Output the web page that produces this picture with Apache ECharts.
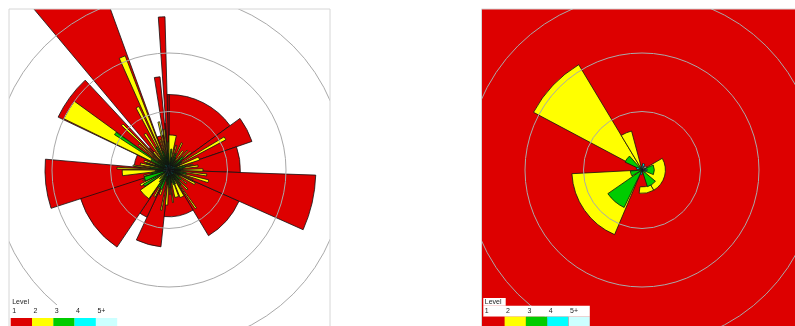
<!DOCTYPE html>
<html>
<head>
<meta charset="utf-8">
<script src="https://cdn.jsdelivr.net/npm/echarts@6/dist/echarts.min.js"></script>
<style>
  html, body { margin: 0; padding: 0; background: #ffffff; }
  #chart { width: 795px; height: 326px; }
</style>
</head>
<body>
<div id="chart"></div>
<script>
// Level legend
const levelNames = ['1', '2', '3', '4', '5+'];
const levelColors = ['#dd0000', '#ffff00', '#00cc00', '#00ffff', '#ccffff'];

// Sectors: [fromDeg, toDeg, innerRadius, outerRadius]
// compass degrees (0 = north, clockwise); range rings every 10 units

// ---- left rose ----
const leftLevel1 = [
  [0, 54, 0, 12.9], [54, 71, 0, 15], [71, 92, 0, 12.2], [114, 149, 0, 13.1],
  [149, 186, 0, 8], [186, 205, 0, 13.2], [205, 214, 0, 8.9], [214, 253, 0, 15.9],
  [275, 295.5, 0, 6], [317, 320, 0, 5], [340, 351, 0, 6], [354.5, 356, 0, 8],
  [358.5, 360, 0, 12.9],
  [92, 114, 0, 25.1], [252, 275, 0, 21.2], [295.5, 317, 0, 21], [320, 340, 0, 38],
  [351, 354.5, 0, 16], [356, 358.5, 0, 26.2]
];
const leftLevel2 = [
  [296, 306, 0, 20], [336, 339, 0, 20.9], [332, 334.6, 0, 12], [313, 315, 0, 11.1],
  [352, 354, 0, 7], [0, 12, 0, 6], [24, 27, 0, 5.1], [34, 38, 0, 4],
  [42, 44, 0, 4.6], [59, 62, 0, 11], [66, 72, 0, 5.5], [76, 78, 0, 4.2],
  [80, 84, 0, 5], [88, 92, 0, 5.8], [96, 99, 0, 6.5], [104, 108, 0, 7],
  [111, 113, 0, 4.4], [116, 120, 0, 5], [126, 129, 0, 3.8], [135, 138, 0, 4.6],
  [144, 146, 0, 8], [150, 158, 0, 5.1], [160, 168, 0, 4.8], [172, 174, 0, 5.6],
  [177, 179, 0, 4.2], [182, 186, 0, 6], [190, 192, 0, 7], [198, 202, 0, 4.5],
  [207, 210, 0, 5.2], [215, 235, 0, 6], [240, 244, 0, 5.5], [247, 249, 0, 4.8],
  [256, 259, 0, 4.4], [263, 270, 0, 8], [271, 273, 0, 8.9], [276, 278, 0, 6.2],
  [280, 284, 0, 5], [288, 292, 0, 4.5], [309, 311, 0, 6.8], [318, 322, 0, 4],
  [325, 328, 0, 7.4], [343, 345, 0, 5.4], [347, 349, 0, 8.4], [357, 359, 0, 4.8],
  [15, 18, 0, 4.4], [49, 52, 0, 4.8]
];
const leftLevel3 = [
  [303, 305.5, 0, 11.1], [330, 333, 0, 4.4], [245, 255, 0, 4.4], [236, 241, 0, 5],
  [298, 302, 0, 3.5], [160, 164, 0, 2.6], [200, 206, 0, 3.5], [20, 24, 0, 3],
  [45, 50, 0, 3.2], [75, 80, 0, 2.8], [100, 104, 0, 3], [125, 130, 0, 2.6],
  [140, 143, 0, 3.2], [175, 179, 0, 3], [210, 214, 0, 3.4], [258, 262, 0, 3],
  [275, 279, 0, 3.2], [286, 288, 0, 4], [340, 343, 0, 3.4], [355, 358, 0, 2.8],
  [5, 8, 0, 3.6], [11, 13, 0, 2.2], [28, 30, 0, 2.4], [36, 38, 0, 2.0],
  [55, 57, 0, 2.6], [63, 65, 0, 2.2], [85, 87, 0, 2.4], [92, 94, 0, 2.0],
  [108, 110, 0, 2.3], [116, 118, 0, 2.0], [133, 135, 0, 2.4], [148, 150, 0, 2.1],
  [154, 156, 0, 2.6], [168, 170, 0, 2.2], [184, 186, 0, 2.5], [192, 194, 0, 2.0],
  [218, 220, 0, 2.6], [226, 228, 0, 2.2], [265, 267, 0, 2.4], [270, 272, 0, 2.0],
  [292, 294, 0, 2.6], [310, 312, 0, 2.4], [318, 320, 0, 2.2], [324, 326, 0, 2.6],
  [336, 338, 0, 2.3], [348, 350, 0, 2.5]
];
const leftLevel4 = [
  [0, 6, 0, 0.9], [30, 38, 0, 0.8], [60, 68, 0, 1.0], [95, 102, 0, 0.8],
  [130, 138, 0, 0.9], [165, 172, 0, 0.8], [195, 203, 0, 1.0], [225, 232, 0, 0.8],
  [260, 268, 0, 0.9], [290, 297, 0, 0.8], [320, 328, 0, 1.0], [345, 351, 0, 0.8]
];
const leftLevel5 = [
  [12, 20, 0, 0.5], [110, 118, 0, 0.5], [180, 188, 0, 0.5], [240, 248, 0, 0.5], [305, 312, 0, 0.5]
];

// ---- right rose ----
const rightLevel1 = [
  [0, 360, 0, 40]
];
const rightLevel2 = [
  [298, 329, 0, 21], [329, 345, 0, 6.9], [203, 267, 0, 12], [60, 150, 0, 4], [150, 187, 2.9, 4]
];
const rightLevel3 = [
  [205.5, 235.3, 0, 7.1], [295, 318, 0, 3.2], [240, 265, 0, 2], [130, 162, 0, 3], [66, 112, 0, 2.1]
];
const rightLevel4 = [
  [5, 25, 0, 1.1], [280, 300, 0, 1.0], [180, 200, 0, 0.8], [80, 95, 0, 0.9]
];
const rightLevel5 = [
  [40, 60, 0, 0.9], [110, 125, 0, 0.7], [335, 350, 0, 0.7]
];

const leftLevels = [leftLevel1, leftLevel2, leftLevel3, leftLevel4, leftLevel5];
const rightLevels = [rightLevel1, rightLevel2, rightLevel3, rightLevel4, rightLevel5];

// Draw one sector per data row using the polar axes for placement
function sectorRenderer(color) {
  return function (params, api) {
    const a0 = api.value(0), a1 = api.value(1), r0 = api.value(2), r1 = api.value(3);
    const c = api.coord([0, a0]);
    const p0 = api.coord([r1, a0]);
    const p1 = api.coord([r1, a1]);
    const q0 = api.coord([r0, a0]);
    const rOut = Math.hypot(p0[0] - c[0], p0[1] - c[1]);
    const rIn = Math.hypot(q0[0] - c[0], q0[1] - c[1]);
    if (a1 - a0 >= 360) {
      return { type: 'circle', shape: { cx: c[0], cy: c[1], r: rOut }, style: { fill: color } };
    }
    const s = Math.atan2(p0[1] - c[1], p0[0] - c[0]);
    let e = Math.atan2(p1[1] - c[1], p1[0] - c[0]);
    while (e <= s) e += Math.PI * 2;
    return {
      type: 'sector',
      shape: { cx: c[0], cy: c[1], r0: rIn, r: rOut, startAngle: s, endAngle: e, clockwise: true },
      style: { fill: color, stroke: '#111111', lineWidth: 0.8 }
    };
  };
}

function roseSeries(levels, polarIndex) {
  return levels.map((rows, i) => ({
    type: 'custom',
    coordinateSystem: 'polar',
    polarIndex: polarIndex,
    name: 'Level ' + levelNames[i],
    dimensions: ['from', 'to', 'inner', 'outer'],
    encode: { angle: ['from', 'to'], radius: ['inner', 'outer'] },
    renderItem: sectorRenderer(levelColors[i]),
    data: rows,
    silent: true,
    z: 2
  }));
}

const ringAxis = (idx) => ({
  polarIndex: idx, type: 'value', min: 0, max: 40, interval: 10, z: 5,
  axisLine: { show: false }, axisTick: { show: false }, axisLabel: { show: false },
  splitLine: { show: true, lineStyle: { color: '#a9a9a9', width: 1 } }
});
const dirAxis = (idx) => ({
  polarIndex: idx, type: 'value', min: 0, max: 360, startAngle: 90, clockwise: true,
  axisLine: { show: false }, axisTick: { show: false }, axisLabel: { show: false },
  splitLine: { show: false }
});

// Legend block: "Level" caption, numbers row, colour swatches
function legendGraphics(x0, yCap, yRow, yBox, capWidth) {
  const w = 21.3;
  const els = [
    { type: 'rect', shape: { x: x0, y: yCap, width: capWidth, height: yRow - yCap }, style: { fill: '#ffffff' }, z: 110 },
    { type: 'rect', shape: { x: x0, y: yRow, width: w * 5, height: yBox - yRow }, style: { fill: '#ffffff' }, z: 110 },
    { type: 'text', x: x0 + 1.5, y: yCap + (yRow - yCap) / 2 + 0.5, style: { text: 'Level', font: '7px "Liberation Sans"', fill: '#222', verticalAlign: 'middle' }, z: 111 }
  ];
  levelNames.forEach((n, i) => {
    els.push({ type: 'text', x: x0 + i * w + 1.5, y: yRow + (yBox - yRow) / 2, style: { text: n, font: '7px "Liberation Sans"', fill: '#222', verticalAlign: 'middle' }, z: 111 });
    els.push({ type: 'rect', shape: { x: x0 + i * w, y: yBox, width: w, height: 12 }, style: { fill: levelColors[i] }, z: 110 });
  });
  return els;
}

const chart = echarts.init(document.getElementById('chart'), null, { renderer: 'canvas' });
chart.setOption({
  animation: false,
  backgroundColor: '#ffffff',
  polar: [
    { center: [169, 170], radius: 234 },
    { center: [642, 170], radius: 234 }
  ],
  angleAxis: [dirAxis(0), dirAxis(1)],
  radiusAxis: [ringAxis(0), ringAxis(1)],
  series: [].concat(roseSeries(leftLevels, 0), roseSeries(rightLevels, 1)),
  graphic: [
    // page margins around the two plot frames
    { type: 'rect', shape: { x: 0, y: 0, width: 795, height: 9 }, style: { fill: '#ffffff' }, z: 100 },
    { type: 'rect', shape: { x: 0, y: 0, width: 9, height: 326 }, style: { fill: '#ffffff' }, z: 100 },
    { type: 'rect', shape: { x: 330, y: 0, width: 151.5, height: 326 }, style: { fill: '#ffffff' }, z: 100 },
    // plot frames
    { type: 'rect', shape: { x: 9, y: 9, width: 321, height: 330 }, style: { fill: null, stroke: '#d6d6d6', lineWidth: 1 }, z: 101 },
    { type: 'rect', shape: { x: 481.5, y: 9, width: 330, height: 330 }, style: { fill: null, stroke: '#d6d6d6', lineWidth: 1 }, z: 101 }
  ].concat(legendGraphics(10.7, 298, 305, 318, 22), legendGraphics(483.3, 298, 305.8, 316.7, 22.4))
});
</script>
</body>
</html>
